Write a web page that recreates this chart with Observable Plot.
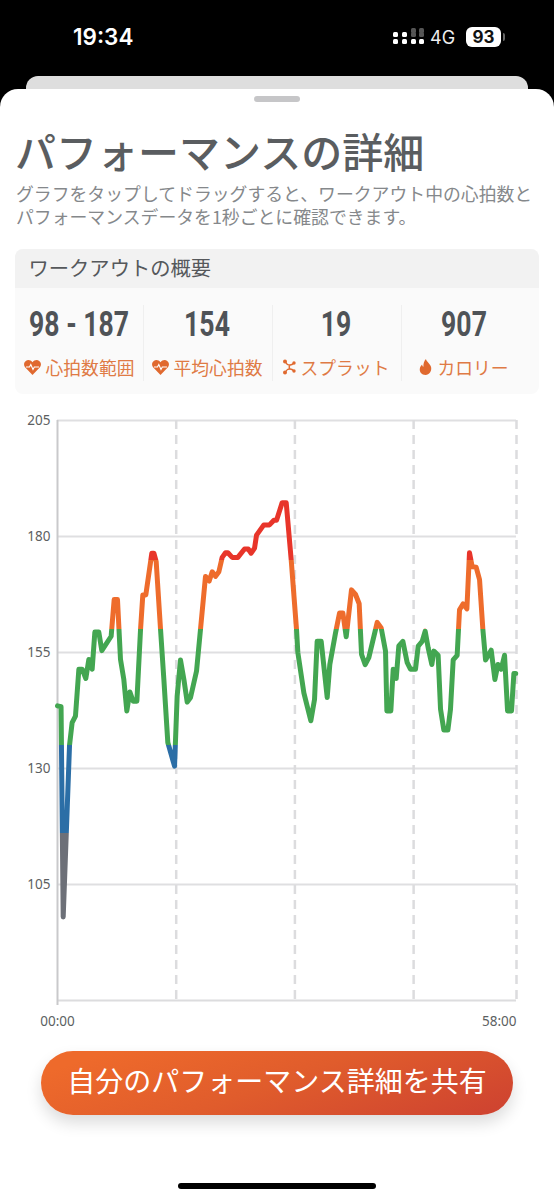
<!DOCTYPE html>
<html lang="ja">
<head>
<meta charset="utf-8">
<script src="https://cdn.jsdelivr.net/npm/d3@7"></script>
<script src="https://cdn.jsdelivr.net/npm/@observablehq/plot@0.6"></script>
<style>
html,body{margin:0;padding:0;width:554px;height:1200px;overflow:hidden;background:#000;font-family:"Noto Sans CJK JP","Noto Sans",sans-serif}
.a{position:absolute;white-space:nowrap}
.stat{position:absolute;top:305px;width:128px;text-align:center}
.val{position:absolute;left:-30px;right:-30px;top:2px;line-height:36px;font-family:"Roboto",sans-serif;font-weight:700;font-size:35px;color:#4f5357;transform:scaleX(.76)}
.lab{position:absolute;left:-10px;right:-10px;top:50px;line-height:24px;font-size:17.8px;color:#df7a45;display:flex;justify-content:center;align-items:center;gap:5px}
.lab svg{flex:none}
#chart{position:absolute;left:0;top:400px;width:554px}
#chart svg{display:block;overflow:visible}
</style>
</head>
<body>
<div class="a" style="left:73px;top:22px;font:600 22.5px/30px Inter,sans-serif;color:#fff">19:34</div>
<div class="a" id="sig" style="left:393px;top:28px;width:28px;height:20px"></div>
<div class="a" style="left:430px;top:27px;font:400 18px/22px Inter,sans-serif;color:#eee">4G</div>
<div class="a" style="left:466px;top:27px;width:35px;height:20px;background:#fff;border-radius:6px;text-align:center;font:700 17px/20px Inter,sans-serif;color:#111">93</div>
<div class="a" style="left:503px;top:33px;width:2px;height:8px;background:#666;border-radius:0 2px 2px 0"></div>
<div class="a" style="left:26px;top:76px;width:502px;height:30px;background:#dedede;border-radius:12px 12px 0 0"></div>
<div class="a" style="left:0;top:89px;width:554px;height:1111px;background:#fff;border-radius:18px 18px 0 0"></div>
<div class="a" style="left:254px;top:96px;width:46px;height:6px;background:#c6c6c8;border-radius:3px"></div>

<div class="a" style="left:15px;top:121px;font-size:41px;font-weight:500;line-height:58px;color:#5a5d60">パフォーマンスの詳細</div>
<div class="a" style="left:16px;top:182px;font-size:17.85px;line-height:23px;height:23px;color:#85888b">グラフをタップしてドラッグすると、ワークアウト中の心拍数と</div>
<div class="a" style="left:16px;top:205px;font-size:17.85px;line-height:23px;height:23px;color:#85888b">パフォーマンスデータを1秒ごとに確認できます。</div>

<div class="a" style="left:15px;top:249px;width:524px;height:145px;background:#fafafa;border-radius:8px;overflow:hidden">
  <div style="height:39px;background:#f2f2f2;padding-left:13.500px;font-size:20.3px;line-height:36px;color:#55585b">ワークアウトの概要</div>
</div>
<div class="a" style="left:143px;top:305px;width:1px;height:76px;background:#efefef"></div>
<div class="a" style="left:272px;top:305px;width:1px;height:76px;background:#efefef"></div>
<div class="a" style="left:401px;top:305px;width:1px;height:76px;background:#efefef"></div>
<div id="stats"></div>

<div id="chart"></div>

<div class="a" style="left:41px;top:1051px;width:472px;height:64px;border-radius:32px;background:linear-gradient(160deg,#ee6a2b 10%,#e05c2c 50%,#cf4430 95%);box-shadow:0 8px 16px rgba(0,0,0,.14);color:#fff;font-size:28px;line-height:58px;text-align:center">自分のパフォーマンス詳細を共有</div>
<div class="a" style="left:178px;top:1183px;width:198px;height:6px;background:#000;border-radius:3px"></div>

<script>
// Heart rate trace
const minutes = [0,0.45,0.72,1.52,1.85,2.27,2.7,3.12,3.58,3.96,4.38,4.72,5.22,5.6,6.78,7.16,7.58,7.96,8.38,8.76,9.14,9.56,10.03,10.49,10.78,11.16,11.92,12.18,12.47,13.02,13.44,13.94,14.79,15.12,15.54,15.97,16.39,16.81,17.57,18.07,18.7,19.17,19.55,19.97,20.39,20.81,21.23,21.53,22.07,22.79,23.63,24.1,24.47,24.9,25.15,26.07,26.79,27.34,27.68,28.39,28.9,29.53,30.2,30.37,31.13,32.01,32.48,32.81,33.32,34.08,34.41,35.13,35.64,36.06,36.48,37.15,37.66,38.12,38.42,38.88,39.34,40.4,40.9,41.45,41.62,42.12,42.42,42.8,43.13,43.64,44.19,44.6,45.24,45.58,46.08,46.46,46.84,47.3,47.56,48.1,48.4,48.82,49.33,49.66,50,50.5,50.8,51.26,51.73,52.06,52.4,52.9,53.33,53.75,54.09,54.8,55.27,55.65,56.07,56.49,56.87,57.37,57.67,57.9];
const bpm = [143.5,143.3,98,135,139.9,141.3,151.4,151.4,149.4,153.5,151.4,159.4,159.4,155.4,158.5,166.4,166.4,153.5,149.2,142.4,146.5,144.5,144.5,159.9,167.4,167.4,176.4,176.4,174.6,160,149.2,135.6,130.5,145.6,153.4,149.2,144.3,145.3,151,160,171.4,170.4,172.4,171.4,172.4,175.5,176.5,176.5,175.5,175.5,177.3,177.3,176.4,177.5,180.3,182.5,182.5,183.5,183.5,187.3,187.3,175,160,155,146.3,140.3,144.9,157.4,157.4,145.3,152.4,159.2,163.5,163.5,158.4,168.5,167.5,165.5,154.6,152.4,153.9,161.5,160.3,155.3,142.4,142.4,151.4,149.4,156.4,157.4,152.8,151.4,151.4,156.4,157.4,159.6,156,152.4,155.3,154.4,142.8,138.3,138.3,142.8,153.4,154.4,164.2,165.5,164.4,176.5,173.5,173.4,170.7,160,153.4,155.5,149.2,152.4,151.4,154.4,142.4,142.4,150.5,150.5];
const yTicks = [105,130,155,180,205];
const dashTicks = [15,30,45,58];
const zoneLimits = [116,135,160,175];
const zoneColors = ["#6d7078","#2b6ea6","#43a651","#ee6c2c","#e8352a"];
const statValues = ["98 - 187","154","19","907"];
const statLabels = ["心拍数範囲","平均心拍数","スプラット","カロリー"];
const statCenters = [79,207,336,464];
const statIcons = ["heart","heart","hub","flame"];

const trace = minutes.map((t,i)=>({t,v:bpm[i]}));
const fmt = m => String(m).padStart(2,"0")+":00";

// Hard-stop vertical gradient placed with the plot's own y scale
function zoneGradient(index, {y}){
  const ns="http://www.w3.org/2000/svg";
  const defs=document.createElementNS(ns,"defs");
  const g=document.createElementNS(ns,"linearGradient");
  g.setAttribute("id","zones");
  g.setAttribute("gradientUnits","userSpaceOnUse");
  g.setAttribute("x1",0);g.setAttribute("x2",0);
  g.setAttribute("y1",y(80));g.setAttribute("y2",y(205));
  const off=v=>(v-80)/125;
  zoneColors.forEach((c,i)=>{
    const a=i?off(zoneLimits[i-1]):0, b=i<zoneLimits.length?off(zoneLimits[i]):1;
    [a,b].forEach(o=>{
      const s=document.createElementNS(ns,"stop");
      s.setAttribute("offset",o);s.setAttribute("stop-color",c);g.appendChild(s);
    });
  });
  defs.appendChild(g);
  return defs;
}

const chart = Plot.plot({
  width:554,height:640,
  marginTop:20,marginBottom:40,marginLeft:57,marginRight:38,
  x:{domain:[0,58],label:null},
  y:{domain:[80,205],label:null},
  style:{fontFamily:'"Noto Sans",sans-serif',fontSize:"13.5px",background:"transparent",color:"#5c5f62"},
  marks:[
    zoneGradient,
    Plot.ruleY(yTicks,{stroke:"#dfdfe1",strokeWidth:2}),
    Plot.ruleY([80],{stroke:"#dcdcde",strokeWidth:2}),
    Plot.ruleX(dashTicks,{y1:205,y2:80,stroke:"#dcdcde",strokeWidth:2.5,strokeDasharray:"9,6"}),
    Plot.ruleX([0],{y1:205,y2:80,stroke:"#c9c9cb",strokeWidth:2,insetBottom:-5}),
    Plot.axisY(yTicks,{tickSize:0,tickPadding:7,label:null,fill:"#5c5f62"}),
    Plot.axisX([0],{tickSize:0,tickPadding:16,label:null,tickFormat:fmt,fill:"#5c5f62"}),
    Plot.axisX([58],{tickSize:0,tickPadding:16,label:null,tickFormat:fmt,textAnchor:"end",fill:"#5c5f62"}),
    Plot.line(trace,{x:"t",y:"v",stroke:"url(#zones)",strokeWidth:5,strokeLinejoin:"round",curve:"linear"})
  ]
});
document.getElementById("chart").appendChild(chart);

// Summary tiles
const icon={
 heart:'<svg width="17" height="15" viewBox="0 0 17 15"><path d="M8.5 15 1.3 7.6C-.6 5.5-.3 2.3 1.8.9 3.9-.5 6.8 0 8.5 2.3 10.2 0 13.100-.5 15.200.9c2.100 1.400 2.400 4.600.5 6.700z" fill="#e0692f"/><path d="M2 7h3.500l1.300-2.500L9 9.500l1.300-2.500H15" fill="none" stroke="#fff" stroke-width="1.100"/></svg>',
 hub:'<svg width="13" height="16" viewBox="0 0 13 16" fill="none" stroke="#e0692f" stroke-width="1.500"><path d="M2 2c2 4 3 4 5 4s3-1 4-2M2 14c2-4 3-4 5-4s3 1 4 2M7 6c-1 1-1 3 0 4"/><g fill="#e0692f" stroke="none"><circle cx="2" cy="2.500" r="2"/><circle cx="2" cy="13.500" r="2"/><circle cx="11" cy="4" r="1.700"/><circle cx="11" cy="12" r="1.700"/></g></svg>',
 flame:'<svg width="13" height="16" viewBox="0 0 14 17"><path d="M7.500 0c.5 3 4.500 5 5.500 8.500C14 13 11 17 7 17S0 14 1 9.500c.4-1.800 1.500-2.800 2.300-3.800.2 1.300.7 2 1.500 2.500C4.500 5 5.500 2 7.500 0z" fill="#e0692f"/></svg>'
};
const stats=document.getElementById("stats");
statValues.forEach((v,i)=>{
  const d=document.createElement("div");
  d.className="stat";d.style.left=(statCenters[i]-64)+"px";
  d.innerHTML='<div class="val">'+v+'</div><div class="lab">'+icon[statIcons[i]]+'<span>'+statLabels[i]+'</span></div>';
  stats.appendChild(d);
});

// Status-bar signal dots
const sig=document.getElementById("sig");
[[0,11],[0,4],[9,11],[9,4],[18,11],[18,4,"#555"],[18,0,"#555"],[26,11],[26,4,"#555"],[26,0,"#555"]].forEach(p=>{
  const e=document.createElement("div");
  e.style.cssText="position:absolute;left:"+p[0]+"px;top:"+p[1]+"px;width:5px;height:5px;border-radius:1.500px;background:"+(p[2]||"#fff");
  sig.appendChild(e);
});
</script>
</body>
</html>
